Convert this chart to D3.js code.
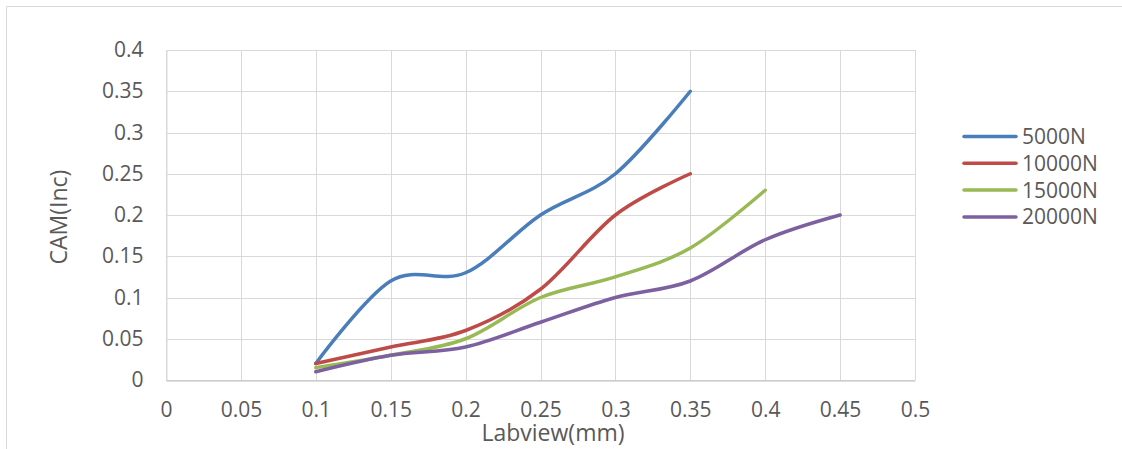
<!DOCTYPE html>
<html>
<head>
<meta charset="utf-8">
<script src="https://cdn.jsdelivr.net/npm/d3@7"></script>
<style>
  body { margin: 0; background: #fff; }
  text { font-family: "Open Sans", sans-serif; fill: #595959; }
</style>
</head>
<body>
<div id="vis"></div>
<script>
var width = 1122;
var height = 449;

// data
var seriesNames = ["5000N", "10000N", "15000N", "20000N"];
var seriesColors = ["#4a7ebb", "#be4b48", "#98b954", "#7d60a0"];
var xValues = [0.1, 0.15, 0.2, 0.25, 0.3, 0.35, 0.4, 0.45];
var s5000 = [0.02, 0.12, 0.13, 0.2, 0.25, 0.35];
var s10000 = [0.02, 0.04, 0.06, 0.11, 0.2, 0.25];
var s15000 = [0.015, 0.03, 0.05, 0.1, 0.125, 0.16, 0.23];
var s20000 = [0.01, 0.03, 0.04, 0.07, 0.1, 0.12, 0.17, 0.2];
var xTicks = [0, 0.05, 0.1, 0.15, 0.2, 0.25, 0.3, 0.35, 0.4, 0.45, 0.5];
var yTicks = [0, 0.05, 0.1, 0.15, 0.2, 0.25, 0.3, 0.35, 0.4];

var allSeries = [s5000, s10000, s15000, s20000];

var canvas = d3.select("#vis")
  .append("svg")
  .attr("width", width)
  .attr("height", height);

// chart frame (only top and left edges visible)
canvas.append("path")
  .attr("d", "M6.5," + height + " V6.5 H" + width)
  .attr("fill", "none")
  .attr("stroke", "#d9d9d9")
  .attr("stroke-width", 1);

const x = d3.scaleLinear()
  .domain([0, 0.5])
  .range([166, 915]);

const y = d3.scaleLinear()
  .domain([0, 0.4])
  .range([380, 50]);

// gridlines
canvas.append("g")
  .selectAll("line")
  .data(yTicks)
  .enter()
  .append("line")
  .attr("x1", x(0)).attr("x2", x(0.5))
  .attr("y1", d => Math.round(y(d)) + 0.5)
  .attr("y2", d => Math.round(y(d)) + 0.5)
  .attr("stroke", "#d9d9d9");

canvas.append("g")
  .selectAll("line")
  .data(xTicks)
  .enter()
  .append("line")
  .attr("y1", y(0)).attr("y2", y(0.4))
  .attr("x1", d => Math.round(x(d)) + 0.5)
  .attr("x2", d => Math.round(x(d)) + 0.5)
  .attr("stroke", "#d9d9d9");

// axes
const xAxis = d3.axisBottom(x)
  .tickValues(xTicks)
  .tickSize(0)
  .tickPadding(22)
  .tickFormat(d => String(d));

canvas.append("g")
  .attr("transform", "translate(0," + (Math.round(y(0)) + 0.5) + ")")
  .call(xAxis)
  .call(g => g.select(".domain").attr("stroke", "#bfbfbf"))
  .selectAll("text")
  .style("font-size", "21px")
  .style("font-family", "Open Sans")
  .attr("fill", "#595959");

const yAxis = d3.axisLeft(y)
  .tickValues(yTicks)
  .tickSize(0)
  .tickPadding(23)
  .tickFormat(d => String(d));

canvas.append("g")
  .attr("transform", "translate(" + (Math.round(x(0)) + 0.5) + ",0)")
  .call(yAxis)
  .call(g => g.select(".domain").attr("stroke", "#d9d9d9"))
  .selectAll("text")
  .style("font-size", "21px")
  .style("font-family", "Open Sans")
  .attr("fill", "#595959");

// lines
var line = d3.line()
  .x((d, i) => x(xValues[i]))
  .y(d => y(d))
  .curve(d3.curveCatmullRom.alpha(0));

canvas.append("g")
  .selectAll("path")
  .data(allSeries)
  .enter()
  .append("path")
  .attr("d", d => line(d))
  .attr("fill", "none")
  .attr("stroke", (d, i) => seriesColors[i])
  .attr("stroke-width", 3.5)
  .attr("stroke-linecap", "round")
  .attr("stroke-linejoin", "round");

// axis titles
canvas.append("text")
  .attr("x", 553)
  .attr("y", 441)
  .attr("text-anchor", "middle")
  .style("font-size", "23px")
  .text("Labview(mm)");

canvas.append("text")
  .attr("transform", "translate(67,217) rotate(-90)")
  .attr("text-anchor", "middle")
  .style("font-size", "23px")
  .text("CAM(Inc)");

// legend
var legend = canvas.append("g")
  .selectAll("g")
  .data(seriesNames)
  .enter()
  .append("g")
  .attr("transform", (d, i) => "translate(0," + (136.5 + i * 26.8) + ")");

legend.append("line")
  .attr("x1", 964).attr("x2", 1016)
  .attr("y1", 0).attr("y2", 0)
  .attr("stroke", (d, i) => seriesColors[i])
  .attr("stroke-width", 3.5)
  .attr("stroke-linecap", "round");

legend.append("text")
  .attr("x", 1022)
  .attr("y", 7.5)
  .style("font-size", "21px")
  .text(d => d);
</script>
</body>
</html>
